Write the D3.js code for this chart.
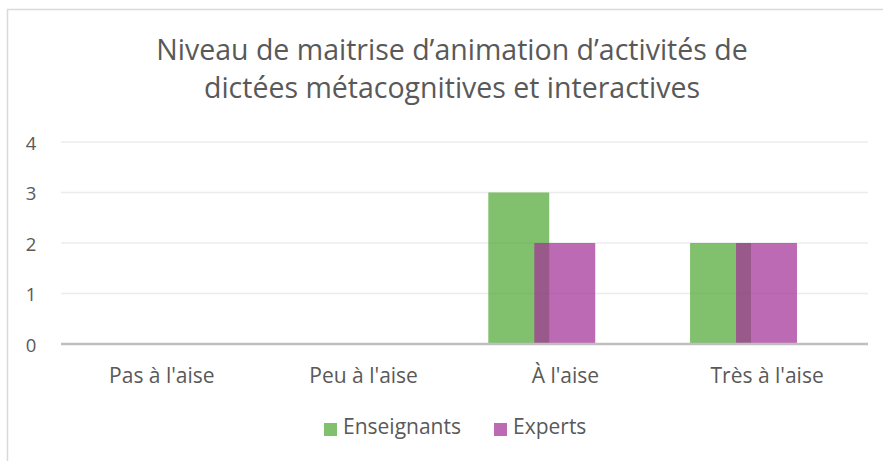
<!DOCTYPE html>
<html>
<head>
<meta charset="utf-8">
<script src="https://cdn.jsdelivr.net/npm/d3@7"></script>
<style>
  body { margin: 0; background: #fff; }
  text { font-family: "Open Sans", "Noto Sans", sans-serif; fill: #595959; }
</style>
</head>
<body>
<script>
var categories = ["Pas à l'aise", "Peu à l'aise", "À l'aise", "Très à l'aise"];
var seriesNames = ["Enseignants", "Experts"];
var enseignants = [0, 0, 3, 2];
var experts = [0, 0, 2, 2];
var yTicks = [0, 1, 2, 3, 4];
var colors = ["#51a833", "#a23197"];

var width = 883, height = 461;

var svg = d3.select("body").append("svg").attr("width", width).attr("height", height);

// chart border
svg.append("rect").attr("x", 7.5).attr("y", 9.5).attr("width", 900).attr("height", 500)
  .attr("fill", "none").attr("stroke", "#d9d9d9").attr("stroke-width", 1.5);

var x = d3.scaleBand().domain(categories).range([61, 868]);
var y = d3.scaleLinear().domain([0, 4]).range([344, 142]);

// Excel-like cluster: 3 slots (last empty), bars overlapping
var slot = d3.scaleLinear().domain([0, 1]).range([-0.382, -0.154]);
var barW = x.bandwidth() * 0.302;

var chartGroup = svg.append("g");

chartGroup.selectAll(".grid")
  .data(yTicks.filter(function(d){ return d > 0; }))
  .enter().append("line")
    .attr("x1", 61).attr("x2", 868)
    .attr("y1", function(d){ return y(d); }).attr("y2", function(d){ return y(d); })
    .attr("stroke", "#ececec").attr("stroke-width", 1.5);

chartGroup.selectAll(".ytick")
  .data(yTicks)
  .enter().append("text")
    .attr("x", 31).attr("y", function(d){ return y(d); })
    .attr("text-anchor", "middle").attr("dominant-baseline", "central")
    .style("font-size", "18.5px")
    .text(function(d){ return d; });

var seriesData = [enseignants, experts];
seriesData.forEach(function(vals, s){
  chartGroup.selectAll(".bar" + s)
    .data(vals)
    .enter().append("rect")
      .attr("x", function(d, i){ return x(categories[i]) + x.bandwidth() / 2 + slot(s) * x.bandwidth(); })
      .attr("y", function(d){ return y(d); })
      .attr("width", barW)
      .attr("height", function(d){ return y(0) - y(d); })
      .attr("fill", colors[s])
      .attr("fill-opacity", 0.72);
});

chartGroup.append("line")
  .attr("x1", 61).attr("x2", 868).attr("y1", y(0)).attr("y2", y(0))
  .attr("stroke", "#bfbfbf").attr("stroke-width", 2.5);

chartGroup.selectAll(".xlab")
  .data(categories)
  .enter().append("text")
    .attr("x", function(d){ return x(d) + x.bandwidth() / 2; })
    .attr("y", 383)
    .attr("text-anchor", "middle")
    .style("font-size", "21px")
    .text(function(d){ return d; });

// title
var title = svg.append("text").attr("text-anchor", "middle").style("font-size", "28.5px");
title.append("tspan").attr("x", 452).attr("y", 60).text("Niveau de maitrise d\u2019animation d\u2019activités de");
title.append("tspan").attr("x", 452).attr("y", 98).text("dictées métacognitives et interactives");

// legend
var legendX = [324, 494];
var legend = svg.selectAll(".leg")
  .data(seriesNames)
  .enter().append("g")
    .attr("transform", function(d, i){ return "translate(" + legendX[i] + ",423)"; });
legend.append("rect").attr("width", 13).attr("height", 13)
  .attr("fill", function(d, i){ return colors[i]; }).attr("fill-opacity", 0.72);
legend.append("text").attr("x", 19).attr("y", 11).style("font-size", "21px")
  .text(function(d){ return d; });
</script>
</body>
</html>
